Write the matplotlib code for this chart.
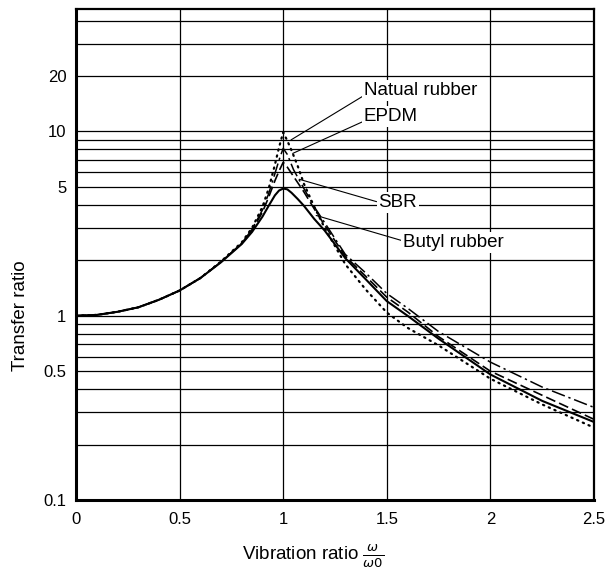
import numpy as np
import matplotlib
matplotlib.use("Agg")
import matplotlib.pyplot as plt
from matplotlib.ticker import FixedLocator, NullFormatter

plt.rcParams["font.family"] = ["Liberation Sans", "DejaVu Sans"]
plt.rcParams["mathtext.fontset"] = "dejavusans"

# values (x = vibration ratio, y = transfer ratio)
x_natural = [0, 0.1, 0.2, 0.3, 0.4, 0.5, 0.6, 0.7, 0.8, 0.85, 0.9, 0.93, 0.96, 0.98, 1.0,
             1.02, 1.04, 1.07, 1.1, 1.15, 1.2, 1.3, 1.4, 1.5, 1.6, 1.75, 2.0, 2.25, 2.5]
y_natural = [1.0, 1.01, 1.05, 1.11, 1.22, 1.37, 1.6, 1.97, 2.5, 3.0, 3.9, 4.9, 6.6, 8.2, 9.9,
             8.9, 7.9, 6.5, 5.2, 3.9, 3.0, 1.9, 1.38, 1.04, 0.86, 0.69, 0.455, 0.33, 0.247]

x_epdm = [0, 0.1, 0.2, 0.3, 0.4, 0.5, 0.6, 0.7, 0.8, 0.85, 0.9, 0.93, 0.96, 0.98, 1.0,
          1.02, 1.05, 1.1, 1.15, 1.2, 1.3, 1.4, 1.5, 1.6, 1.75, 2.0, 2.25, 2.5]
y_epdm = [1.0, 1.01, 1.05, 1.11, 1.22, 1.37, 1.6, 1.96, 2.47, 2.95, 3.75, 4.6, 5.9, 7.0, 8.1,
          7.5, 6.2, 4.9, 3.9, 3.2, 2.15, 1.7, 1.32, 1.1, 0.82, 0.56, 0.41, 0.318]

x_sbr = [0, 0.1, 0.2, 0.3, 0.4, 0.5, 0.6, 0.7, 0.8, 0.85, 0.9, 0.93, 0.96, 0.98, 1.0,
         1.02, 1.05, 1.1, 1.15, 1.2, 1.3, 1.4, 1.5, 1.6, 1.75, 2.0, 2.25, 2.5]
y_sbr = [1.0, 1.01, 1.05, 1.11, 1.22, 1.37, 1.6, 1.96, 2.46, 2.9, 3.65, 4.4, 5.4, 6.1, 6.8,
         6.4, 5.7, 4.7, 3.8, 3.1, 2.1, 1.63, 1.26, 1.05, 0.77, 0.50, 0.37, 0.274]

x_butyl = [0, 0.1, 0.2, 0.3, 0.4, 0.5, 0.6, 0.7, 0.8, 0.85, 0.9, 0.93, 0.96, 0.98, 1.0,
           1.02, 1.04, 1.07, 1.1, 1.15, 1.2, 1.3, 1.4, 1.5, 1.6, 1.75, 2.0, 2.25, 2.5]
y_butyl = [1.0, 1.01, 1.05, 1.11, 1.22, 1.37, 1.6, 1.95, 2.45, 2.85, 3.45, 3.95, 4.5, 4.78, 4.9,
           4.85, 4.65, 4.3, 3.95, 3.35, 2.9, 2.05, 1.57, 1.2, 1.0, 0.75, 0.48, 0.345, 0.265]

x_ticks = [0, 0.5, 1, 1.5, 2, 2.5]
x_tick_labels = ["0", "0.5", "1", "1.5", "2", "2.5"]
y_ticks = [0.1, 0.5, 1, 5, 10, 20]
y_tick_labels = ["0.1", "0.5", "1", "5", "10", "20"]

fig = plt.figure(figsize=(6.05, 5.72), dpi=100)
ax = fig.add_axes([0.1256, 0.1259, 0.8562, 0.8578])

ax.set_yscale("log")
ax.set_xlim(0, 2.5)
ax.set_ylim(0.1, 46)

ax.plot(x_natural, y_natural, color="black", lw=1.6, linestyle=(0, (0.6, 2.2)),
        dash_capstyle="round")
ax.plot(x_epdm, y_epdm, color="black", lw=1.1, linestyle=(0, (9, 2.5, 1.5, 2.5)))
ax.plot(x_sbr, y_sbr, color="black", lw=1.2, linestyle=(0, (6, 2.5)))
ax.plot(x_butyl, y_butyl, color="black", lw=1.5)

# grid: every 0.5 on x, every 1-9 multiple on the log y axis
minor_y = [m * 10.0 ** e for e in (-1, 0, 1) for m in range(1, 10)]
ax.yaxis.set_major_locator(FixedLocator(y_ticks))
ax.yaxis.set_minor_locator(FixedLocator(minor_y))
ax.yaxis.set_minor_formatter(NullFormatter())
ax.set_yticklabels(y_tick_labels)
ax.set_xticks(x_ticks)
ax.set_xticklabels(x_tick_labels)
ax.grid(True, which="both", axis="y", color="black", lw=0.9)
ax.grid(True, which="major", axis="x", color="black", lw=0.9)
ax.set_axisbelow(True)
ax.tick_params(which="both", length=0, labelsize=12)
ax.tick_params(axis="x", pad=9)
ax.tick_params(axis="y", pad=7)

for side in ("left", "bottom"):
    ax.spines[side].set_linewidth(2.2)
for side in ("top", "right"):
    ax.spines[side].set_linewidth(1.6)

box = dict(boxstyle="square,pad=0.1", fc="white", ec="none")
labels = [
    ("Natual rubber", (1.038, 9.0), (1.39, 16.7), (0, 0.2)),
    ("EPDM", (1.046, 7.6), (1.39, 12.0), (0, 0.25)),
    ("SBR", (1.078, 5.5), (1.46, 4.13), (0, 0.5)),
    ("Butyl rubber", (1.159, 3.5), (1.58, 2.49), (0, 0.6)),
]
for text, xy, xytext, rel in labels:
    ax.annotate(text, xy=xy, xytext=xytext, fontsize=13.5, ha="left", va="center",
                bbox=box,
                arrowprops=dict(arrowstyle="-", color="black", lw=0.8,
                                shrinkA=0, shrinkB=0, relpos=rel))

ax.set_ylabel("Transfer ratio", fontsize=13.5, va="center")
ax.yaxis.set_label_coords(-0.108, 0.375)
ax.set_xlabel(r"Vibration ratio $\frac{\omega}{\omega 0}$", fontsize=13.5, va="center")
ax.xaxis.set_label_coords(0.4575, -0.114)

fig.savefig("out.png", dpi=100)
